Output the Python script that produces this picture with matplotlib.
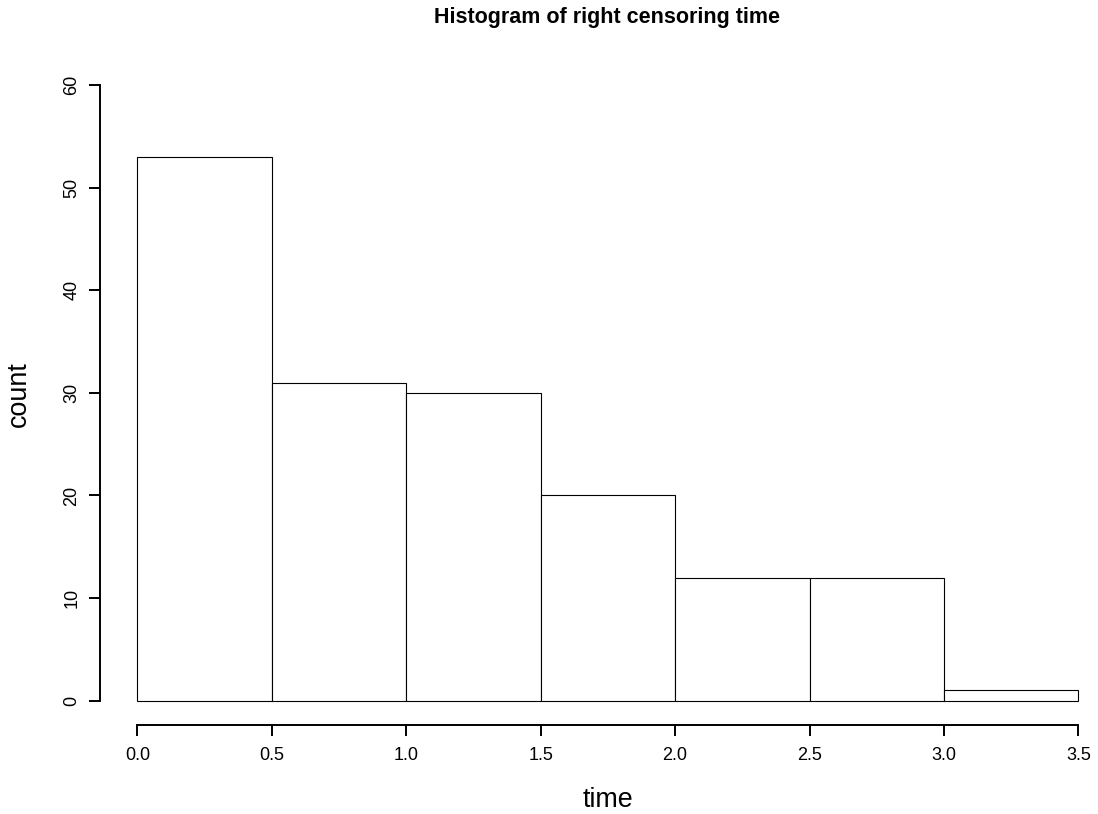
import matplotlib
matplotlib.use("Agg")
import matplotlib.pyplot as plt

# histogram bins and counts
breaks = [0.0, 0.5, 1.0, 1.5, 2.0, 2.5, 3.0, 3.5]
counts = [53, 31, 30, 20, 12, 12, 1]
xticks = [0.0, 0.5, 1.0, 1.5, 2.0, 2.5, 3.0, 3.5]
yticks = [0, 10, 20, 30, 40, 50, 60]

plt.rcParams['font.family'] = ['Liberation Sans', 'DejaVu Sans']

fig = plt.figure(figsize=(10.98, 8.14), dpi=100)
ax = fig.add_axes([0.0908, 0.109, 0.9256, 0.8168])

ax.bar(breaks[:-1], counts, width=breaks[1] - breaks[0], align='edge',
       facecolor='white', edgecolor='black', linewidth=0.8)

ax.set_xlim(-0.14, 3.64)
ax.set_ylim(-2.4, 62.4)

for s in ['top', 'right']:
    ax.spines[s].set_visible(False)
ax.spines['left'].set_bounds(yticks[0], yticks[-1])
ax.spines['bottom'].set_bounds(xticks[0], xticks[-1])
ax.spines['left'].set_linewidth(1.4)
ax.spines['bottom'].set_linewidth(1.4)

ax.set_xticks(xticks)
ax.set_xticklabels(['%.1f' % v for v in xticks])
ax.set_yticks(yticks)
ax.set_yticklabels([str(v) for v in yticks], rotation=90, va='center')
ax.tick_params(axis='both', direction='out', length=8, width=1.4, labelsize=13)
ax.tick_params(axis='x', pad=8)
ax.tick_params(axis='y', pad=6)

fig.text(607 / 1098, 1 - 23 / 814, 'Histogram of right censoring time',
         ha='center', va='baseline', fontsize=15.5, fontweight='bold')
fig.text(608 / 1098, 1 - 807 / 814, 'time', ha='center', va='baseline',
         fontsize=19.4)
fig.text(18.5 / 1098, 1 - 394 / 814, 'count', ha='center', va='center',
         rotation=90, fontsize=19.4)

fig.savefig('out.png', dpi=100)
